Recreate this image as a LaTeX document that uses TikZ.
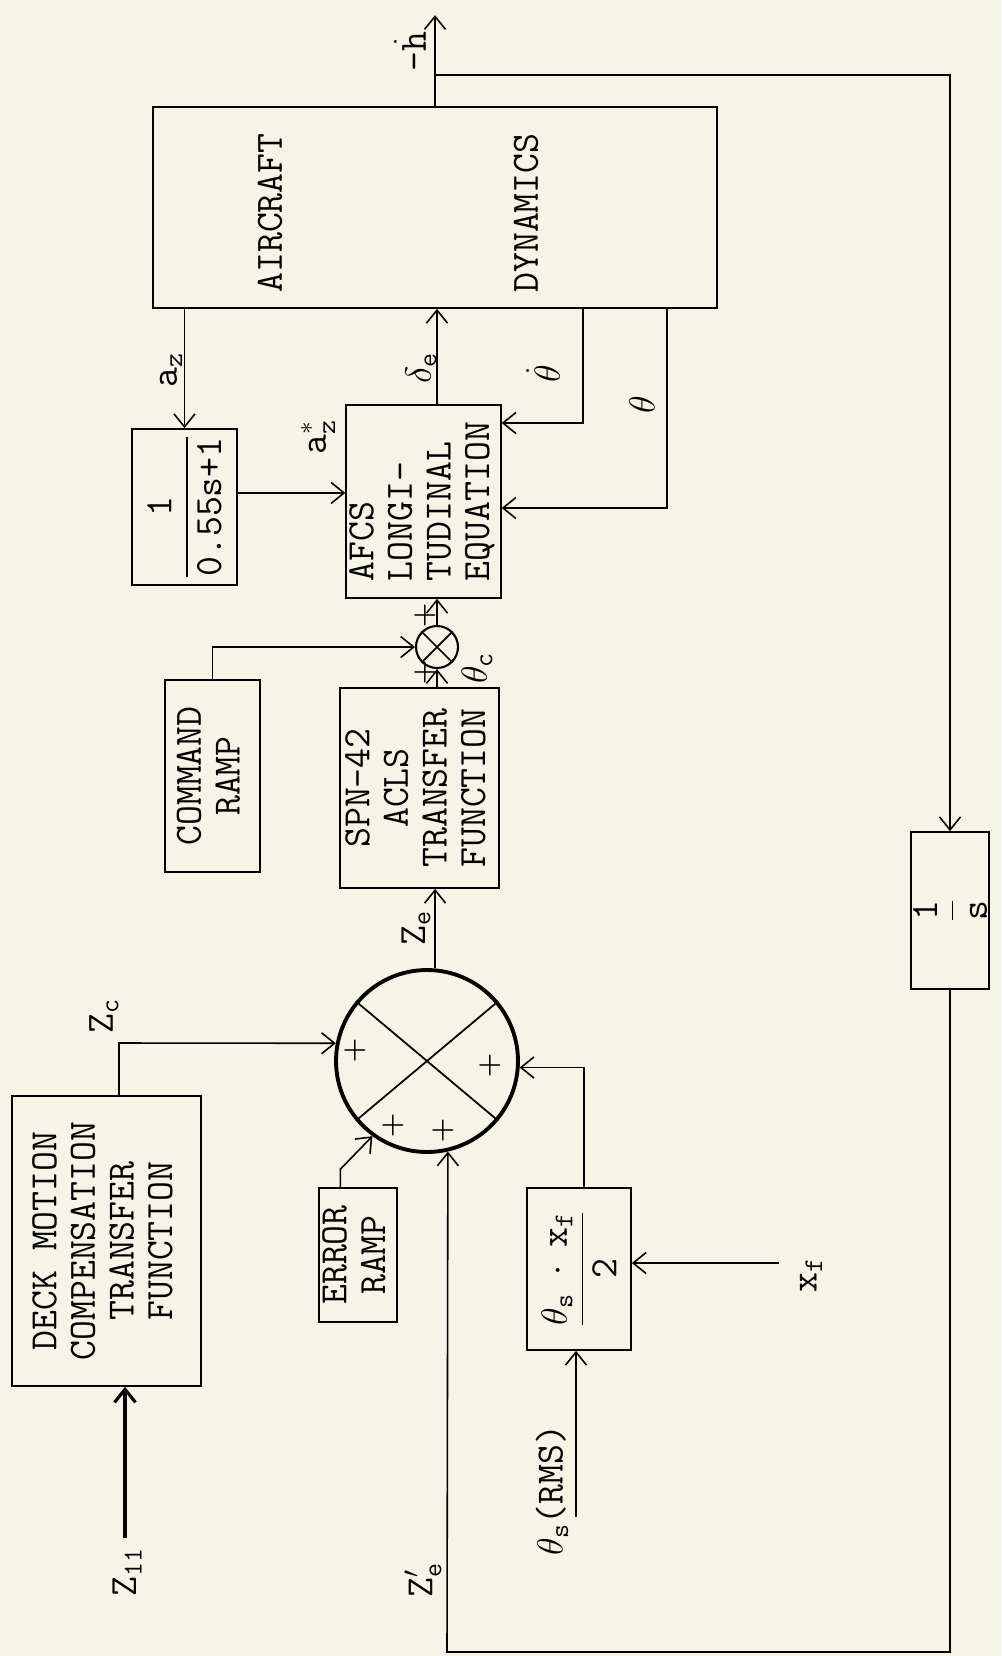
\documentclass[tikz,border=0pt]{standalone}
\usepackage{amsmath}
\usetikzlibrary{arrows.meta, calc}
\definecolor{paper}{RGB}{245,244,230}
\newcommand{\vlines}[2][c]{\rotatebox{90}{\begin{tabular}{@{}#1@{}}#2\end{tabular}}}

\begin{document}
\begin{tikzpicture}[
        x=0.02cm, y=-0.02cm,
        every node/.style={font=\ttfamily\fontsize{22}{22}\selectfont},
        block/.style={draw, line width=1pt, inner sep=0pt},
        lbl/.style={rotate=90, inner sep=1pt},
        plus/.style={font=\rmfamily\bfseries\fontsize{16}{16}\selectfont, inner sep=0pt},
        wire/.style={line width=0.9pt},
        >={Straight Barb[length=2.6mm, width=4.2mm]}
        ]
        \fill[paper] (0,0) rectangle (1001,1656);
        \useasboundingbox (0,0) rectangle (1001,1656);

        % plant and autopilot
        \node[block, minimum width=11.28cm, minimum height=4.02cm] (aircraft) at (435,207.5) {};
        \node[lbl] (tair) at (270,213) {AIRCRAFT};
        \node[lbl] (tdyn) at (526,213) {DYNAMICS};
        \node[block, minimum width=3.06cm, minimum height=3.86cm] (afcs) at (423.5,501.5) {\vlines[l]{AFCS\\LONGI-\\TUDINAL\\EQUATION}};
        \node[block, minimum width=2.10cm, minimum height=3.12cm] (lag) at (184.5,507) {\rotatebox{90}{$\dfrac{\text{1}}{\text{0.55s+1}}$}};
        \node[block, minimum width=1.56cm, minimum height=3.14cm] (integ) at (950,910.5) {\rotatebox{90}{$\dfrac{\text{1}}{\text{s}}$}};

        % command side
        \node[block, minimum width=1.90cm, minimum height=3.84cm] (command) at (212.5,776) {\vlines{COMMAND\\RAMP}};
        \node[block, minimum width=3.18cm, minimum height=4.00cm] (spn) at (419.5,788) {\vlines{SPN-42\\ACLS\\TRANSFER\\FUNCTION}};
        \node[circle, draw, line width=1.2pt, minimum size=0.84cm, inner sep=0pt] (sumB) at (437,647) {};
        \draw[line width=1pt] (sumB.45) -- (sumB.225) (sumB.135) -- (sumB.315);

        % error side
        \node[block, minimum width=3.78cm, minimum height=5.80cm] (deck) at (106.5,1241) {\vlines{DECK MOTION\\COMPENSATION\\TRANSFER\\FUNCTION}};
        \node[block, minimum width=1.52cm, minimum height=2.68cm] (errramp) at (358,1255) {\vlines{ERROR\\RAMP}};
        \node[block, minimum width=2.08cm, minimum height=3.24cm] (gainbox) at (579,1269) {\rotatebox{90}{$\dfrac{\theta_{\text{s}}\;\cdot\;\text{x}_{\text{f}}}{\text{2}}$}};
        \node[circle, draw, line width=2.2pt, minimum size=3.64cm, inner sep=0pt] (sumA) at (427,1061) {};
        \draw[line width=1pt] (sumA.140) -- (sumA.320) (sumA.40) -- (sumA.220);
        \node[plus] (pa1) at (355,1050) {+};
        \node[plus] (pa2) at (490,1065) {+};
        \node[plus] (pa3) at (393,1125) {+};
        \node[plus] (pa4) at (443,1130) {+};
        \node[plus] (pb1) at (425,615) {+};
        \node[plus] (pb2) at (425,672) {+};

        % free ends and corners
        \coordinate (z11in) at (125,1538);
        \coordinate (zcturn) at (119,1043);
        \coordinate (xfin) at (779,1263);
        \coordinate (thsin) at (576,1517);
        \coordinate (fbcorner) at (447,1652);
        \coordinate (thdturn) at (583,423);
        \coordinate (thturn) at (667,508);

        % connectors
        \draw[->, line width=1.8pt] (z11in) -- (z11in |- deck.south);
        \draw[->, wire] (deck.north -| zcturn) -- (zcturn) -- (sumA.169);
        \draw[->, wire] ([xshift=-10pt]errramp.north) -- ++(0,-18) -- (sumA.234);
        \draw[->, wire] (integ.south) |- (fbcorner) -- (sumA.283);
        \draw[->, wire] ([xshift=3pt]gainbox.north) |- (sumA.356);
        \draw[->, wire] (xfin) -- (xfin -| gainbox.east);
        \draw[->, wire] (thsin) -- (thsin |- gainbox.south);
        \draw[->, wire] (sumA.85) -- (sumA.85 |- spn.south);
        \draw[->, wire] (sumB.south |- spn.north) -- (sumB.south);
        \draw[->, wire] (command.north) |- (sumB.west);
        \draw[->, wire] (sumB.north) -- (sumB.north |- afcs.south);
        \draw[->, wire] (sumB.north |- afcs.north) -- (sumB.north |- aircraft.south);
        \draw[->, wire] (thdturn |- aircraft.south) -- (thdturn) -- (thdturn -| afcs.east);
        \draw[->, wire] (thturn |- aircraft.south) -- (thturn) -- (thturn -| afcs.east);
        \draw[->, wire] (lag.north |- aircraft.south) -- (lag.north);
        \draw[->, wire] ([yshift=8pt]lag.east) -- ([yshift=8pt]lag.east -| afcs.west);
        \draw[->, wire] (aircraft.north) -- ++(0,-91);
        \draw[->, wire] (aircraft.north) ++(0,-31) -| (integ.north);

        % signal labels
        \node[lbl] (lz11) at (127,1572) {$\text{Z}_{\text{11}}$};
        \node[lbl] (lzc) at (104,1016) {$\text{Z}_{\text{c}}$};
        \node[lbl] (lzep) at (423,1580) {$\text{Z}'_{\text{e}}$};
        \node[lbl] (lze) at (416,928) {$\text{Z}_{\text{e}}$};
        \node[lbl] (lthc) at (477,668) {$\theta_{\text{c}}$};
        \node[lbl] (laz) at (171,370) {$\text{a}_{\text{z}}$};
        \node[lbl] (lazs) at (318,437) {$\text{a}^{*}_{\text{z}}$};
        \node[lbl] (lde) at (421,368) {$\delta_{\text{e}}$};
        \node[lbl] (lthd) at (543,374) {$\dot{\theta}$};
        \node[lbl] (lth) at (642,405) {$\theta$};
        \node[lbl] (lhd) at (410,52) {-$\dot{\text{h}}$};
        \node[lbl] (lxf) at (811,1275) {$\text{x}_{\text{f}}$};
        \node[lbl] (lths) at (552,1490) {$\theta_{\text{s}}$(RMS)};
    \end{tikzpicture}
\end{document}
